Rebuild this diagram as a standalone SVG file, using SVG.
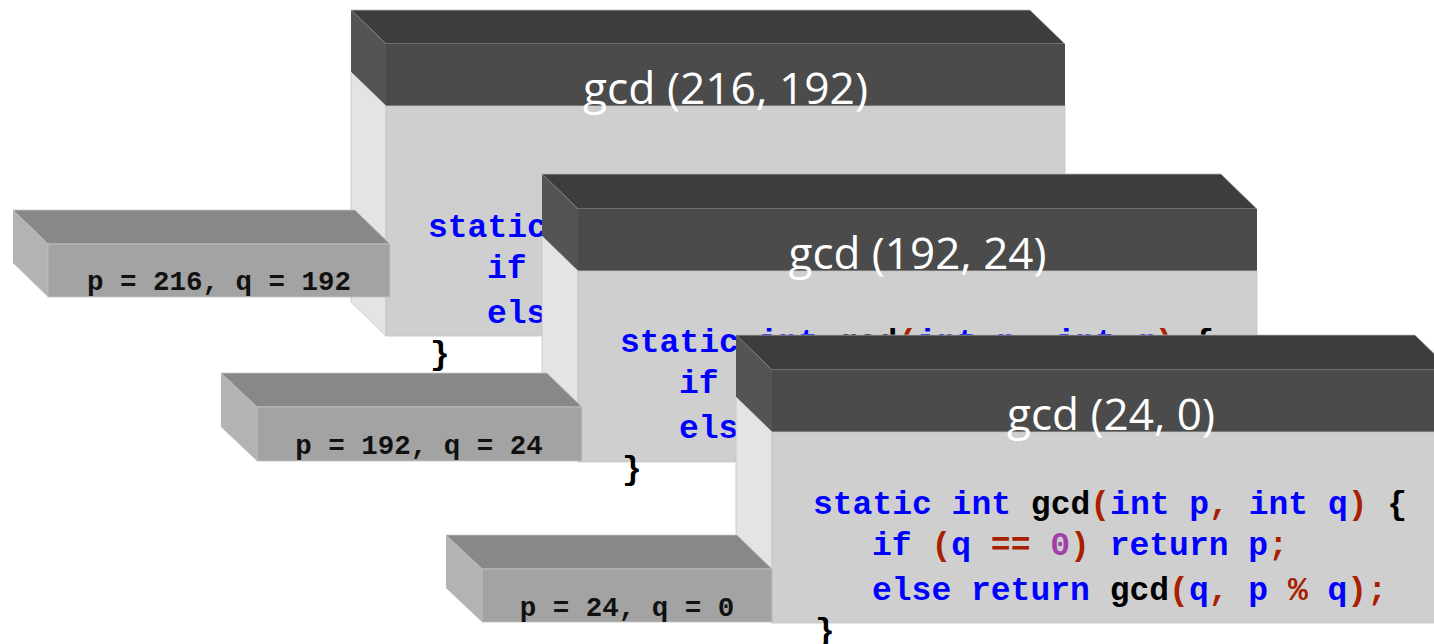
<svg xmlns="http://www.w3.org/2000/svg" xmlns:xlink="http://www.w3.org/1999/xlink" width="1434" height="644" viewBox="0 0 1434 644">
<style>
.top{fill:#3d3d3d;stroke:#b8b8b8;stroke-width:0.8}
.sh{fill:#545454}
.sb{fill:#e4e4e4;stroke:#c4c4c4;stroke-width:0.8}
.hdr{fill:#4b4b4b}
.body{fill:#cfcfcf;stroke:#c4c4c4;stroke-width:0.8}
.btop{fill:#888888;stroke:#c8c8c8;stroke-width:0.8}
.bside{fill:#b3b3b3}
.bfront{fill:#a3a3a3;stroke:#c0c0c0;stroke-width:0.8}
.title{font-family:"Open Sans","DejaVu Sans",sans-serif;font-size:44px;fill:#ffffff;text-anchor:middle}
.code{font-family:"Liberation Mono","Courier New",monospace;font-weight:bold;font-size:33px}
.lbl{font-family:"Liberation Mono","Courier New",monospace;font-weight:bold;font-size:27.5px;fill:#111111;text-anchor:middle}
.k{fill:#0000ff}.r{fill:#a82000}.n{fill:#a040a8}.b{fill:#000000}
</style>
<defs>
<g id="code" class="code">
<text x="0" y="0"><tspan class="k">static int </tspan><tspan class="b">gcd</tspan><tspan class="r">(</tspan><tspan class="k">int p</tspan><tspan class="r">,</tspan><tspan class="k"> int q</tspan><tspan class="r">)</tspan><tspan class="b"> {</tspan></text>
<text x="59" y="41"><tspan class="k">if </tspan><tspan class="r">(</tspan><tspan class="k">q </tspan><tspan class="r">== </tspan><tspan class="n">0</tspan><tspan class="r">)</tspan><tspan class="k"> return p</tspan><tspan class="r">;</tspan></text>
<text x="59" y="86"><tspan class="k">else return </tspan><tspan class="b">gcd</tspan><tspan class="r">(</tspan><tspan class="k">q</tspan><tspan class="r">,</tspan><tspan class="k"> p </tspan><tspan class="r">% </tspan><tspan class="k">q</tspan><tspan class="r">);</tspan></text>
<text x="2" y="127" class="b">}</text>
</g>
</defs>

<g id="frame1">
<polygon class="top" points="351,10 1030,10 1065,44 386,44"/>
<polygon class="sh" points="351,10 386,44 386,106 351,72"/>
<polygon class="sb" points="351,72 386,106 386,336 351,302"/>
<rect class="hdr" x="386" y="44" width="679" height="62"/>
<rect class="body" x="386" y="106" width="679" height="230"/>
<text class="title" x="725.5" y="104" textLength="285" lengthAdjust="spacingAndGlyphs">gcd (216, 192)</text>
<use xlink:href="#code" href="#code" x="428" y="237"/>
</g>

<g id="args1">
<polygon class="btop" points="13,210 355,210 390,244 48,244"/>
<polygon class="bside" points="13,210 48,244 48,297 13,263"/>
<rect class="bfront" x="48" y="244" width="342" height="53"/>
<text class="lbl" x="219" y="290">p = 216, q = 192</text>
</g>

<g id="frame2">
<polygon class="top" points="542,174 1221,174 1257,209 578,209"/>
<polygon class="sh" points="542,174 578,209 578,271 542,236"/>
<polygon class="sb" points="542,236 578,271 578,462 542,427"/>
<rect class="hdr" x="578" y="209" width="679" height="62"/>
<rect class="body" x="578" y="271" width="679" height="191"/>
<text class="title" x="917.5" y="269" textLength="258" lengthAdjust="spacingAndGlyphs">gcd (192, 24)</text>
<use xlink:href="#code" href="#code" x="620" y="352"/>
</g>

<g id="args2">
<polygon class="btop" points="221,373 547,373 582,407 257,407"/>
<polygon class="bside" points="221,373 257,407 257,461 221,427"/>
<rect class="bfront" x="257" y="407" width="325" height="54"/>
<text class="lbl" x="419" y="454">p = 192, q = 24</text>
</g>

<g id="frame3">
<polygon class="top" points="736,335 1415,335 1451,370 772,370"/>
<polygon class="sh" points="736,335 772,370 772,432 736,397"/>
<polygon class="sb" points="736,397 772,432 772,623 736,588"/>
<rect class="hdr" x="772" y="370" width="679" height="62"/>
<rect class="body" x="772" y="432" width="679" height="191"/>
<text class="title" x="1111" y="430" textLength="208" lengthAdjust="spacingAndGlyphs">gcd (24, 0)</text>
<use xlink:href="#code" href="#code" x="813" y="514"/>
</g>

<g id="args3">
<polygon class="btop" points="446,535 737,535 772,569 482,569"/>
<polygon class="bside" points="446,535 482,569 482,622 446,588"/>
<rect class="bfront" x="482" y="569" width="290" height="53"/>
<text class="lbl" x="627" y="616">p = 24, q = 0</text>
</g>

<g id="connectors"/>
</svg>
